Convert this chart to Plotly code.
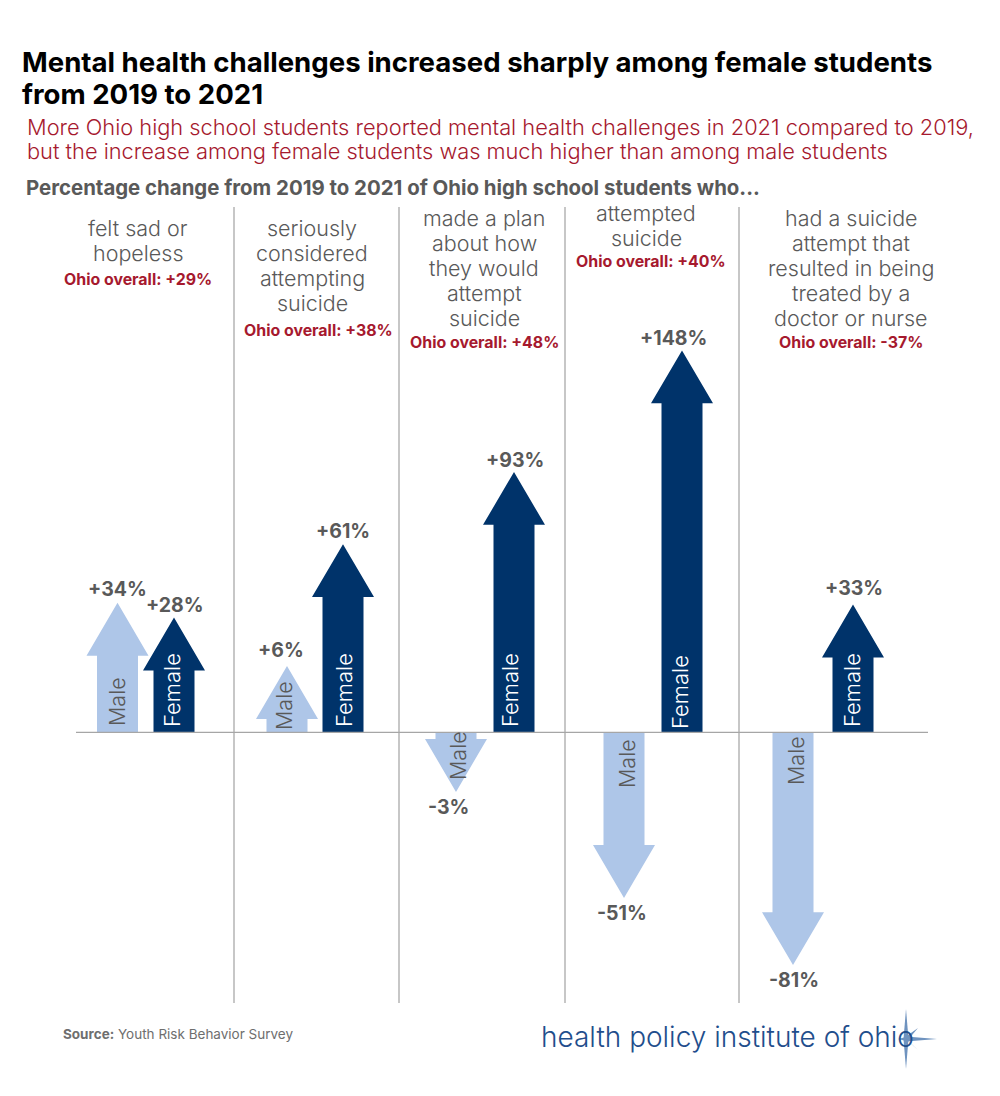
import plotly.graph_objects as go

# data
categories = [
    "felt sad or<br>hopeless",
    "seriously<br>considered<br>attempting<br>suicide",
    "made a plan<br>about how<br>they would<br>attempt<br>suicide",
    "attempted<br>suicide",
    "had a suicide<br>attempt that<br>resulted in being<br>treated by a<br>doctor or nurse",
]
overall_change = [29, 38, 48, 40, -37]
male_change = [34, 6, -3, -51, -81]
female_change = [28, 61, 93, 148, 33]
# the source does not draw its arrows to scale, so these are the drawn lengths
male_drawn = [50.2, 25.7, -23.1, -64.2, -90.2]
female_drawn = [44.5, 72.9, 100.9, 148, 49.5]

MALE = "#AEC6E8"
FEMALE = "#00336A"
GREY = "#595959"
RED = "#A6192E"
FONT = "Inter"
W, H = 1000, 1096

BASE_PX = 732.3
PX_PER_UNIT = 2.58

male_x = [117.5, 287, 456, 624, 793]
female_x = [174, 343, 514, 682, 853]
dividers = [234, 399, 565, 739]

male_label_pos = [(117, 702), (284, 706), (458, 756), (627, 764), (796, 761)]
female_label_pos = [(172, 690), (344, 690), (510, 690), (680, 692), (852, 690)]
male_value_pos = [(117, 589), (281, 650), (448, 807), (622, 913), (794, 980)]
female_value_pos = [(175, 605), (343, 531), (515, 460), (673, 338), (854, 588)]
cat_pos = [(138, 228), (312, 228), (484, 218), (646, 213), (851, 218)]
overall_pos = [(138, 279), (318, 330), (484, 342), (651, 261), (851, 342)]


def arrow(center, length):
    # shaft + head polygon, pointing the way the length's sign goes
    sign = 1 if length >= 0 else -1
    neck = length - sign * 20.5
    xs = [center - 20.5, center - 20.5, center - 31, center, center + 31, center + 20.5, center + 20.5, center - 20.5]
    ys = [0, neck, neck, length, neck, neck, 0, 0]
    return xs, ys


def py(px):
    return 1 - px / H


def fmt(v):
    return f"{v:+d}%"


fig = go.Figure()

for i in range(5):
    xs, ys = arrow(male_x[i], male_drawn[i])
    fig.add_trace(go.Scatter(x=xs, y=ys, mode="lines", fill="toself", fillcolor=MALE,
                             line=dict(width=0, color=MALE), hoverinfo="skip", showlegend=False))
    xs, ys = arrow(female_x[i], female_drawn[i])
    fig.add_trace(go.Scatter(x=xs, y=ys, mode="lines", fill="toself", fillcolor=FEMALE,
                             line=dict(width=0, color=FEMALE), hoverinfo="skip", showlegend=False))

notes = []


def note(text, x, y_px, size, color, bold=False, anchor="center", angle=0, weight=None):
    if bold:
        text = f"<b>{text}</b>"
    font = dict(family=FONT, size=size, color=color)
    if weight:
        font["weight"] = weight
    notes.append(dict(text=text, x=x, y=py(y_px), xref="x", yref="paper", showarrow=False,
                      xanchor=anchor, yanchor="middle", align="center" if anchor == "center" else "left",
                      textangle=angle, font=font, borderpad=0, borderwidth=0))


def lines(text, x, y_px, gap, size, color, **kw):
    # separate annotations so line spacing can differ from plotly's default
    for n, part in enumerate(text.split("<br>")):
        note(part, x, y_px + n * gap, size, color, **kw)


# headings
lines("Mental health challenges increased sharply among female students<br>from 2019 to 2021",
      22, 62, 32, 27.6, "#000000", bold=True, anchor="left")
lines("More Ohio high school students reported mental health challenges in 2021 compared to 2019,<br>"
      "but the increase among female students was much higher than among male students",
      27, 127, 23.5, 21.8, RED, anchor="left", weight=300)
note("Percentage change from 2019 to 2021 of Ohio high school students who...", 26, 187, 20.4, GREY, bold=True, anchor="left")

for i in range(5):
    lines(categories[i], cat_pos[i][0], cat_pos[i][1], 25, 21.5, GREY, weight=300)
    note("Ohio overall: " + fmt(overall_change[i]), overall_pos[i][0], overall_pos[i][1], 15.9, RED, bold=True)
    note("Male", male_label_pos[i][0], male_label_pos[i][1], 21.5, GREY, angle=-90, weight=300)
    note("Female", female_label_pos[i][0], female_label_pos[i][1], 22, "#FFFFFF", angle=-90, weight=300)
    note(fmt(male_change[i]), male_value_pos[i][0], male_value_pos[i][1], 19.5, GREY, bold=True)
    note(fmt(female_change[i]), female_value_pos[i][0], female_value_pos[i][1], 19.5, GREY, bold=True)

note("<b>Source:</b> Youth Risk Behavior Survey", 63, 1034, 13.5, "#6E6E6E", anchor="left")

shapes = []
for x in dividers:
    shapes.append(dict(type="line", xref="x", yref="paper", x0=x, x1=x, y0=py(207), y1=py(1003),
                       line=dict(color="#B5B5B5", width=1.5)))
shapes.append(dict(type="line", xref="x", yref="y", x0=76, x1=928, y0=0, y1=0, line=dict(color="#A6A6A6", width=1.2)))

# logo star behind the wordmark
star_cx, star_cy = 906, 1039
spikes = [(0, -30, 2.5), (0, 30, 2.5), (31, 0, 2.5), (12, -11, 2), (12, 11, 2), (-8, 0, 2)]
for dx, dy, w in spikes:
    nx, ny = (w, 0) if dx == 0 else (0, w) if dy == 0 else (w * 0.7, w * 0.7)
    path = (f"M {star_cx - nx},{py(star_cy - ny)} L {star_cx + dx},{py(star_cy + dy)} "
            f"L {star_cx + nx},{py(star_cy + ny)} Z")
    shapes.append(dict(type="path", xref="x", yref="paper", path=path, fillcolor="#6F93BF", line=dict(width=0)))

note("health policy institute of ohio", 541, 1037, 28, "#1F4E8C", anchor="left", weight=300)

fig.update_layout(
    width=W, height=H,
    margin=dict(l=0, r=0, t=0, b=0),
    paper_bgcolor="white", plot_bgcolor="white",
    showlegend=False,
    annotations=notes,
    shapes=shapes,
    xaxis=dict(range=[0, W], visible=False, fixedrange=True),
    yaxis=dict(range=[(BASE_PX - H) / PX_PER_UNIT, BASE_PX / PX_PER_UNIT], visible=False, fixedrange=True),
)

fig.write_html("out.html", post_script="document.body.style.margin='0';", config={"displayModeBar": False})
